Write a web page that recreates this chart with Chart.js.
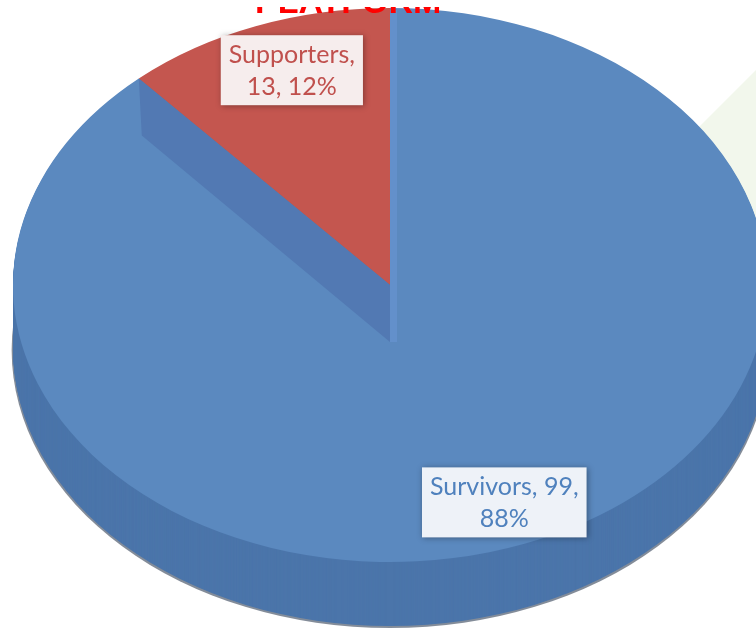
<!DOCTYPE html>
<html><head><meta charset="utf-8">
<script src="https://cdn.jsdelivr.net/npm/chart.js@4/dist/chart.umd.min.js"></script>
<style>
html,body{margin:0;padding:0;background:#fff;width:756px;height:630px;overflow:hidden}
#stage{position:relative;width:756px;height:630px}
#bg{position:absolute;left:600px;top:0;width:156px;height:630px;background:#F2F7EC;
 clip-path:polygon(156px 70px,60px 166px,60px 380px,156px 380px);}
#c{position:absolute;left:0;top:0}
</style></head>
<body><div id="stage"><div id="bg"></div><canvas id="c" width="756" height="630"></canvas></div>
<script>
// ---- data ----
const categories = ['Supporters', 'Survivors'];
const counts = [13, 99];
const percentLabels = ['12%', '88%'];
const titleText = 'PLATFORM';

// ---- style ----
const topColors = ['#C4564F', '#5B89BF'];
const sideColors = ['#9C413D', '#4B75AA'];
const textColors = ['#C0504D', '#4F81BD'];
const boxFills = ['#F6EDED', '#EEF2F8'];
const GEOM = {cx: 390, cy: 285, rx: 377, ry: 277, depth: 64, band: 57};
const LABEL_K = [{kx: 0.73, ky: 0.83}, {kx: 0.85, ky: 0.84}];

function toScreen(angle, kx, ky) {
  return {x: GEOM.cx + GEOM.rx * kx * Math.cos(angle), y: GEOM.cy + GEOM.ry * ky * Math.sin(angle)};
}

const pie3d = {
  id: 'pie3d',
  beforeDatasetsDraw(chart) {
    const ctx = chart.ctx;
    const arcs = chart.getDatasetMeta(0).data;
    const a0 = arcs[0];
    const r = a0.outerRadius;
    ctx.save();
    ctx.translate(GEOM.cx, GEOM.cy);
    ctx.scale(GEOM.rx / r, GEOM.ry / r);
    ctx.translate(-a0.x, -a0.y);
    const step = r / GEOM.ry;
    // soft shadow rim under the side wall
    ctx.save();
    ctx.beginPath();
    ctx.arc(a0.x, a0.y + (GEOM.depth + 1) * step, r + 1 * step, 0, Math.PI * 2);
    ctx.fillStyle = 'rgba(30,45,70,0.55)';
    ctx.fill();
    ctx.restore();
    // side walls
    for (let d = GEOM.depth; d > 0; d -= 1) {
      const off = d * step;
      arcs.forEach((a, i) => {
        ctx.beginPath();
        ctx.moveTo(a.x, a.y + off);
        ctx.arc(a.x, a.y + off, a.outerRadius, a.startAngle, a.endAngle);
        ctx.closePath();
        ctx.fillStyle = sideColors[i];
        ctx.fill();
      });
    }
  },
  afterDatasetsDraw(chart) {
    const ctx = chart.ctx;
    ctx.restore();
    const arcs = chart.getDatasetMeta(0).data;
    // radial face of the big slice, seen below the small slice
    const A = toScreen(arcs[0].startAngle, 1, 1);
    const C = {x: GEOM.cx, y: GEOM.cy};
    ctx.save();
    ctx.beginPath();
    ctx.moveTo(C.x, C.y);
    ctx.lineTo(A.x, A.y);
    ctx.lineTo(A.x + 3, A.y + GEOM.band);
    ctx.lineTo(C.x, C.y + GEOM.band);
    ctx.closePath();
    ctx.fillStyle = '#5279B3';
    ctx.fill();
    // thin radial face on the vertical edge
    const T = toScreen(arcs[0].endAngle, 1, 1);
    ctx.beginPath();
    ctx.moveTo(C.x, C.y + GEOM.band);
    ctx.lineTo(T.x, T.y + 2);
    ctx.lineTo(T.x + 7, T.y + 2);
    ctx.lineTo(C.x + 7, C.y + GEOM.band);
    ctx.closePath();
    ctx.fillStyle = '#6390CB';
    ctx.fill();
    ctx.restore();

    // data labels
    arcs.forEach((a, i) => {
      const mid = (a.startAngle + a.endAngle) / 2;
      const p = toScreen(mid, LABEL_K[i].kx, LABEL_K[i].ky);
      const l1 = i === 0 ? categories[i] + ',' : categories[i] + ', ' + counts[i] + ',';
      const l2 = i === 0 ? counts[i] + ', ' + percentLabels[i] : percentLabels[i];
      ctx.save();
      ctx.font = '25px Lato';
      const w = Math.max(ctx.measureText(l1).width, ctx.measureText(l2).width) + 16;
      const h = 70;
      ctx.shadowColor = 'rgba(0,0,0,0.35)';
      ctx.shadowBlur = 6;
      ctx.shadowOffsetX = 1;
      ctx.shadowOffsetY = 1;
      ctx.fillStyle = boxFills[i];
      ctx.fillRect(p.x - w / 2, p.y - h / 2, w, h);
      ctx.shadowColor = 'transparent';
      ctx.fillStyle = textColors[i];
      ctx.textAlign = 'center';
      ctx.textBaseline = 'middle';
      ctx.fillText(l1, p.x, p.y - 15);
      ctx.fillText(l2, p.x, p.y + 17);
      ctx.restore();
    });
  },
  afterDraw(chart) {
    const ctx = chart.ctx;
    ctx.save();
    ctx.beginPath();
    ctx.rect(0, 7, 756, 10);
    ctx.clip();
    ctx.font = 'bold 34px "Liberation Sans"';
    ctx.fillStyle = '#FF0000';
    ctx.textAlign = 'left';
    ctx.textBaseline = 'alphabetic';
    ctx.fillText(titleText, 255, 13);
    ctx.restore();
  }
};

new Chart(document.getElementById('c'), {
  type: 'pie',
  data: {
    labels: categories,
    datasets: [{data: counts, backgroundColor: topColors, borderWidth: 0}]
  },
  options: {
    responsive: false,
    devicePixelRatio: 1,
    animation: false,
    rotation: -360 * counts[0] / (counts[0] + counts[1]),
    layout: {padding: 0},
    plugins: {legend: {display: false}, tooltip: {enabled: false}, title: {display: false}}
  },
  plugins: [pie3d]
});
</script>
</body></html>
